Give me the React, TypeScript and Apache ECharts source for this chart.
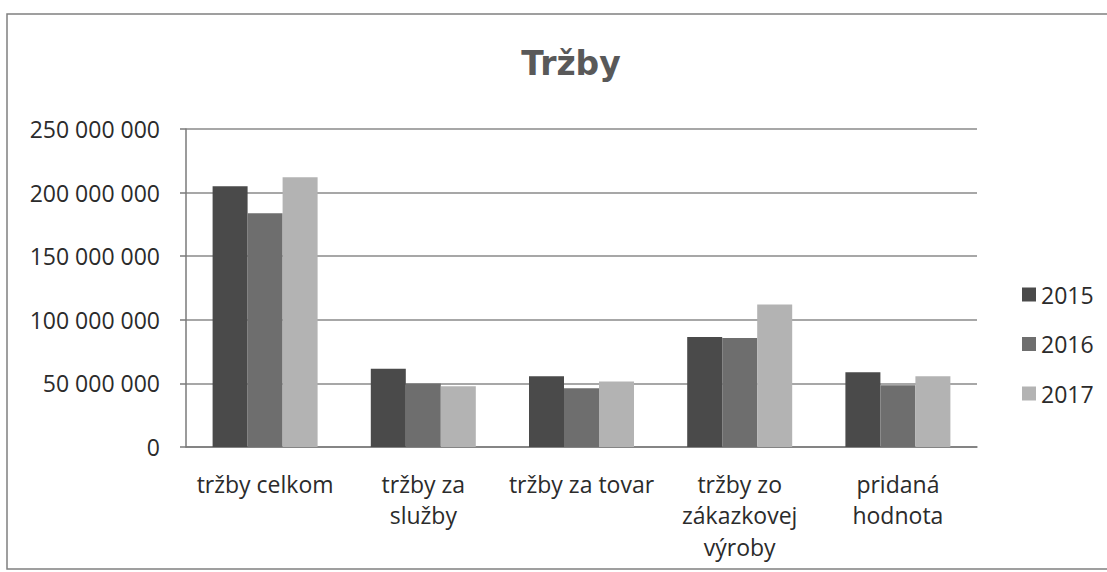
import React, { useEffect, useRef } from "react";
import * as echarts from "echarts";

const categories = [
  "tržby celkom",
  "tržby za\nslužby",
  "tržby za tovar",
  "tržby zo\nzákazkovej\nvýroby",
  "pridaná\nhodnota",
];
const seriesNames = ["2015", "2016", "2017"];
const values2015 = [205000000, 61500000, 55700000, 86500000, 58800000];
const values2016 = [183700000, 50000000, 46200000, 85700000, 48600000];
const values2017 = [212000000, 47800000, 51500000, 112000000, 55700000];
const colors = ["#4a4a4a", "#6e6e6e", "#b3b3b3"];

const FONT = "'Open Sans', 'Noto Sans', sans-serif";

function fmt(v: number): string {
  return String(Math.round(v)).replace(/\B(?=(\d{3})+(?!\d))/g, " ");
}

export default function App() {
  const ref = useRef<HTMLDivElement>(null);
  useEffect(() => {
    if (!ref.current) return;
    const chart = echarts.init(ref.current, null, { renderer: "svg" });
    const data = [values2015, values2016, values2017];
    chart.setOption({
      animation: false,
      backgroundColor: "#ffffff",
      title: {
        text: "Tržby",
        left: 566,
        top: 42,
        textAlign: "center",
        textStyle: {
          fontFamily: "'DejaVu Sans', sans-serif",
          fontWeight: "bold",
          fontSize: 33,
          color: "#595959",
        },
      },
      graphic: [
        {
          type: "rect",
          shape: { x: 7, y: 14, width: 1130, height: 555 },
          style: { fill: "none", stroke: "#808080", lineWidth: 1.5 },
          silent: true,
        },
      ],
      legend: {
        orient: "vertical",
        left: 1017,
        top: 278,
        itemWidth: 14,
        itemHeight: 14,
        itemGap: 26.5,
        icon: "rect",
        data: seriesNames,
        textStyle: {
          fontFamily: FONT,
          fontSize: 23,
          lineHeight: 23,
          color: "#2b2b2b",
        },
      },
      grid: { left: 186, right: 130, top: 129, bottom: 125 },
      xAxis: {
        type: "category",
        data: categories,
        axisTick: { show: false },
        axisLine: { lineStyle: { color: "#7a7a7a", width: 1.5 } },
        axisLabel: {
          interval: 0,
          fontFamily: FONT,
          fontSize: 23,
          lineHeight: 31.5,
          margin: 21,
          color: "#2b2b2b",
        },
      },
      yAxis: {
        type: "value",
        min: 0,
        max: 250000000,
        interval: 50000000,
        axisLine: { show: true, lineStyle: { color: "#7a7a7a", width: 1.5 } },
        axisTick: { show: true, length: 6, lineStyle: { color: "#7a7a7a", width: 1.5 } },
        splitLine: { lineStyle: { color: "#8a8a8a", width: 1.5 } },
        axisLabel: {
          fontFamily: FONT,
          fontSize: 23,
          margin: 26,
          color: "#2b2b2b",
          formatter: (v: number) => fmt(v),
        },
      },
      series: seriesNames.map((name, i) => ({
        name,
        type: "bar",
        data: data[i],
        barWidth: 35,
        barGap: "0%",
        itemStyle: { color: colors[i] },
      })),
    });
    return () => chart.dispose();
  }, []);
  return (
    <div
      ref={ref}
      style={{ position: "absolute", left: 0, top: 0, width: 1107, height: 572 }}
    />
  );
}
